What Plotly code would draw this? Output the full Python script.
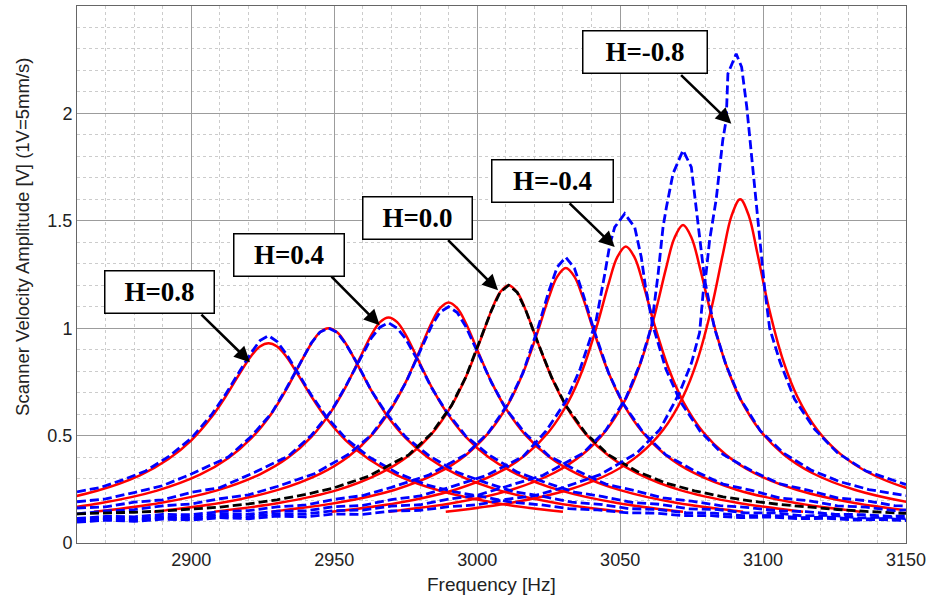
import plotly.graph_objects as go

# ---------------- data ----------------
H_LABELS = ["0.8", "0.6", "0.4", "0.2", "0.0", "-0.2", "-0.4", "-0.6", "-0.8"]

# model curves (red, solid): frequency [Hz] and amplitude [V]
model_f_h08 = [2824,2847,2867,2882,2892,2900,2907,2912,2917,2921,2924,2927,2930,2933,2937,2942,2947,2954,2962,2972,2987,3007,3030]
model_a_h08 = [0.145,0.185,0.243,0.315,0.391,0.478,0.585,0.682,0.791,0.872,0.915,0.93,0.915,0.872,0.791,0.682,0.585,0.478,0.391,0.315,0.243,0.185,0.145]
model_f_h06 = [2845,2868,2888,2903,2913,2921,2928,2933,2938,2942,2945,2948,2951,2954,2958,2963,2968,2975,2983,2993,3008,3028,3051]
model_a_h06 = [0.145,0.185,0.244,0.318,0.396,0.488,0.602,0.709,0.834,0.929,0.981,1.0,0.981,0.929,0.834,0.709,0.602,0.488,0.396,0.318,0.244,0.185,0.145]
model_f_h04 = [2866,2889,2909,2924,2934,2942,2949,2954,2959,2963,2966,2969,2972,2975,2979,2984,2989,2996,3004,3014,3029,3049,3072]
model_a_h04 = [0.145,0.186,0.245,0.320,0.399,0.494,0.614,0.727,0.862,0.969,1.028,1.05,1.028,0.969,0.862,0.727,0.614,0.494,0.399,0.320,0.245,0.186,0.145]
model_f_h02 = [2887,2910,2930,2945,2955,2963,2970,2975,2980,2984,2987,2990,2993,2996,3000,3005,3010,3017,3025,3035,3050,3070,3093]
model_a_h02 = [0.146,0.186,0.246,0.322,0.403,0.501,0.627,0.749,0.900,1.024,1.093,1.12,1.093,1.024,0.900,0.749,0.627,0.501,0.403,0.322,0.246,0.186,0.146]
model_f_h00 = [2908,2931,2951,2966,2976,2984,2991,2996,3001,3005,3008,3011,3014,3017,3021,3026,3031,3038,3046,3056,3071,3091,3114]
model_a_h00 = [0.146,0.187,0.246,0.324,0.406,0.507,0.640,0.772,0.940,1.083,1.167,1.2,1.167,1.083,0.940,0.772,0.640,0.507,0.406,0.324,0.246,0.187,0.146]
model_f_hm02 = [2928,2951,2971,2986,2996,3004,3011,3016,3021,3025,3028,3031,3034,3037,3041,3046,3051,3058,3066,3076,3091,3111,3134]
model_a_hm02 = [0.146,0.187,0.247,0.325,0.409,0.513,0.650,0.791,0.977,1.141,1.240,1.28,1.240,1.141,0.977,0.791,0.650,0.513,0.409,0.325,0.247,0.187,0.146]
model_f_hm04 = [2949,2972,2992,3007,3017,3025,3032,3037,3042,3046,3049,3052,3055,3058,3062,3067,3072,3079,3087,3097,3112,3132,3155]
model_a_hm04 = [0.145,0.186,0.247,0.325,0.411,0.517,0.660,0.811,1.017,1.209,1.331,1.38,1.331,1.209,1.017,0.811,0.660,0.517,0.411,0.325,0.247,0.186,0.145]
model_f_hm06 = [2969,2992,3012,3027,3037,3045,3052,3057,3062,3066,3069,3072,3075,3078,3082,3087,3092,3099,3107,3117,3132,3152,3175]
model_a_hm06 = [0.146,0.187,0.248,0.327,0.414,0.523,0.672,0.832,1.057,1.276,1.420,1.48,1.420,1.276,1.057,0.832,0.672,0.523,0.414,0.327,0.248,0.187,0.146]
model_f_hm08 = [2989,3012,3032,3047,3057,3065,3072,3077,3082,3086,3089,3092,3095,3098,3102,3107,3112,3119,3127,3137,3152,3172,3195]
model_a_hm08 = [0.145,0.187,0.248,0.327,0.415,0.526,0.681,0.850,1.096,1.349,1.524,1.6,1.524,1.349,1.096,0.850,0.681,0.526,0.415,0.327,0.248,0.187,0.145]

# measured curves (blue dashed; H=0.0 black dashed)
meas_f_h08 = [2860,2868,2876,2884,2892,2900,2907,2912,2917,2921,2924,2927,2930,2933,2937,2942,2947,2954,2962,2972,2982,2992,3002,3012,3022,3032,3042,3052,3062,3072,3082,3092,3102,3112,3122,3132,3142,3150]
meas_a_h08 = [0.238,0.258,0.294,0.335,0.402,0.488,0.596,0.693,0.802,0.887,0.942,0.965,0.938,0.884,0.798,0.688,0.592,0.487,0.402,0.326,0.272,0.238,0.216,0.19,0.178,0.16,0.154,0.141,0.139,0.128,0.127,0.118,0.121,0.113,0.115,0.107,0.109,0.104]
meas_f_h06 = [2860,2870,2880,2890,2900,2913,2921,2928,2933,2938,2942,2945,2948,2951,2954,2958,2963,2968,2975,2983,2993,3003,3013,3023,3033,3043,3053,3063,3073,3083,3093,3103,3113,3123,3133,3143,3150]
meas_a_h06 = [0.192,0.205,0.235,0.267,0.321,0.401,0.497,0.603,0.714,0.833,0.932,0.982,1.0,0.98,0.928,0.837,0.708,0.607,0.493,0.408,0.329,0.281,0.238,0.217,0.19,0.18,0.16,0.156,0.141,0.139,0.127,0.128,0.118,0.12,0.111,0.114,0.107]
meas_f_h04 = [2860,2870,2880,2890,2900,2910,2922,2934,2942,2949,2954,2959,2963,2966,2969,2972,2975,2979,2984,2989,2996,3004,3014,3024,3034,3044,3054,3064,3074,3084,3094,3104,3114,3124,3134,3144,3150]
meas_a_h04 = [0.163,0.168,0.19,0.201,0.236,0.258,0.328,0.405,0.502,0.615,0.73,0.858,0.955,1.005,1.025,1.0,0.95,0.855,0.724,0.616,0.498,0.411,0.33,0.281,0.237,0.216,0.189,0.18,0.159,0.156,0.14,0.14,0.126,0.129,0.117,0.12,0.113]
meas_f_h02 = [2860,2870,2880,2890,2900,2910,2920,2930,2943,2955,2963,2970,2975,2980,2984,2987,2990,2993,2996,3000,3005,3010,3017,3025,3035,3045,3055,3065,3075,3085,3095,3105,3115,3125,3135,3145,3150]
meas_a_h02 = [0.136,0.149,0.155,0.173,0.182,0.206,0.224,0.263,0.322,0.413,0.503,0.63,0.746,0.897,1.01,1.075,1.1,1.073,1.008,0.892,0.747,0.625,0.507,0.406,0.336,0.274,0.244,0.21,0.195,0.174,0.165,0.15,0.146,0.134,0.132,0.124,0.126]
meas_f_h00 = [2860,2870,2880,2890,2900,2910,2920,2930,2940,2950,2962,2976,2984,2991,2996,3001,3005,3008,3011,3014,3017,3021,3026,3031,3038,3046,3056,3066,3076,3086,3096,3106,3116,3126,3136,3146,3150]
meas_a_h00 = [0.136,0.138,0.143,0.149,0.157,0.167,0.182,0.201,0.226,0.257,0.311,0.41,0.51,0.64,0.772,0.94,1.083,1.167,1.2,1.167,1.083,0.94,0.772,0.64,0.51,0.41,0.333,0.279,0.243,0.215,0.195,0.179,0.166,0.156,0.147,0.14,0.138]
meas_f_hm02 = [2860,2870,2880,2890,2900,2910,2920,2930,2940,2950,2960,2970,2983,2996,3004,3011,3016,3021,3025,3028,3031,3034,3037,3041,3046,3051,3058,3066,3076,3086,3096,3106,3116,3126,3136,3146,3150]
meas_a_hm02 = [0.114,0.124,0.122,0.133,0.132,0.146,0.151,0.168,0.177,0.203,0.221,0.259,0.316,0.412,0.515,0.652,0.792,0.99,1.17,1.285,1.33,1.28,1.16,0.985,0.79,0.65,0.515,0.41,0.336,0.274,0.245,0.209,0.197,0.173,0.167,0.151,0.154]
meas_f_hm04 = [2860,2870,2880,2890,2900,2910,2920,2930,2940,2950,2960,2970,2980,2990,3003,3016,3024,3031,3036,3041.5,3044.6,3046.4,3048.1,3051.6,3055.1,3057.4,3058.9,3061.5,3066,3071,3078,3086,3096,3106,3116,3126,3136,3146,3150]
meas_a_hm04 = [0.106,0.116,0.112,0.123,0.122,0.134,0.134,0.148,0.15,0.169,0.175,0.202,0.219,0.258,0.313,0.402,0.52,0.66,0.81,1.03,1.25,1.39,1.47,1.533,1.47,1.33,1.19,1.01,0.81,0.66,0.52,0.412,0.336,0.275,0.245,0.21,0.197,0.174,0.172]
meas_f_hm06 = [2860,2870,2880,2890,2900,2910,2920,2930,2940,2950,2960,2970,2980,2990,3000,3010,3023,3037,3045,3052,3057,3061,3063.3,3065,3066.2,3068.5,3072,3074.9,3076.6,3078.4,3079.6,3083,3087,3092,3099,3107,3117,3127,3137,3150]
meas_a_hm06 = [0.101,0.111,0.106,0.117,0.113,0.125,0.123,0.136,0.135,0.151,0.153,0.172,0.178,0.204,0.222,0.262,0.315,0.418,0.525,0.675,0.835,1.01,1.254,1.47,1.564,1.72,1.828,1.75,1.564,1.378,1.223,1.0,0.83,0.672,0.523,0.42,0.338,0.285,0.249,0.22]
meas_f_hm08 = [2860,2870,2880,2890,2900,2910,2920,2930,2940,2950,2960,2970,2980,2990,3000,3010,3020,3030,3043,3056,3064,3070.8,3075,3077.8,3079,3080.1,3081.3,3083.6,3085.9,3087.1,3087.7,3090.6,3092.5,3094.3,3096,3097.8,3099.4,3100.6,3102.3,3106,3111,3118,3126,3136,3150]
meas_a_hm08 = [0.097,0.106,0.101,0.111,0.107,0.118,0.113,0.125,0.122,0.135,0.133,0.149,0.152,0.169,0.178,0.203,0.22,0.258,0.318,0.42,0.53,0.70,0.84,0.98,1.16,1.26,1.41,1.60,1.875,1.97,2.185,2.277,2.216,2.03,1.80,1.56,1.33,1.18,1.0,0.84,0.67,0.53,0.42,0.335,0.272]

MODEL_F = [model_f_h08, model_f_h06, model_f_h04, model_f_h02, model_f_h00, model_f_hm02, model_f_hm04, model_f_hm06, model_f_hm08]
MODEL_A = [model_a_h08, model_a_h06, model_a_h04, model_a_h02, model_a_h00, model_a_hm02, model_a_hm04, model_a_hm06, model_a_hm08]
MEAS_F = [meas_f_h08, meas_f_h06, meas_f_h04, meas_f_h02, meas_f_h00, meas_f_hm02, meas_f_hm04, meas_f_hm06, meas_f_hm08]
MEAS_A = [meas_a_h08, meas_a_h06, meas_a_h04, meas_a_h02, meas_a_h00, meas_a_hm02, meas_a_hm04, meas_a_hm06, meas_a_hm08]

for f, a in zip(MODEL_F + MEAS_F, MODEL_A + MEAS_A):
    assert len(f) == len(a), (len(f), len(a))

X_TICKS = [2900, 2950, 3000, 3050, 3100, 3150]
Y_TICKS = [0, 0.5, 1, 1.5, 2]

# callout labels: text, box centre (Hz, V), arrow tail (Hz, V), arrow tip (Hz, V), box width px
CALLOUTS = [
    ("H=0.8",  (2889.0, 1.170), (2903.0, 1.070), (2920.5, 0.842), 104),
    ("H=0.4",  (2934.0, 1.342), (2948.5, 1.247), (2965.9, 1.014), 105),
    ("H=0.0",  (2979.2, 1.514), (2989.3, 1.417), (3007.3, 1.177), 104),
    ("H=-0.4", (3026.4, 1.684), (3031.8, 1.588), (3048.1, 1.378), 116),
    ("H=-0.8", (3058.8, 2.286), (3070.8, 2.185), (3088.9, 1.952), 119),
]

# ---------------- figure ----------------
SANS = "Liberation Sans, Arial, sans-serif"
SERIF = "Liberation Serif, Times New Roman, serif"

fig = go.Figure()

for f, a in zip(MODEL_F, MODEL_A):
    fig.add_trace(go.Scatter(
        x=f, y=a, mode="lines", hoverinfo="skip", showlegend=False,
        line=dict(color="#ff0000", width=2.5, shape="spline"),
    ))

for lab, f, a in zip(H_LABELS, MEAS_F, MEAS_A):
    col = "#000000" if lab == "0.0" else "#0000ff"
    fig.add_trace(go.Scatter(
        x=f, y=a, mode="lines", hoverinfo="skip", showlegend=False,
        line=dict(color=col, width=2.8, dash="9px,4px"),
    ))

annotations = []
for text, (bx, by), (tx, ty), (px, py), w in CALLOUTS:
    annotations.append(dict(
        x=px, y=py, xref="x", yref="y", ax=tx, ay=ty, axref="x", ayref="y",
        text="", showarrow=True, arrowhead=2, arrowsize=1.2, arrowwidth=2.6,
        arrowcolor="#000000", standoff=0, startstandoff=0,
    ))
for text, (bx, by), (tx, ty), (px, py), w in CALLOUTS:
    annotations.append(dict(
        x=bx, y=by, xref="x", yref="y", text="<b>%s</b>" % text, showarrow=False,
        font=dict(family=SERIF, size=27, color="#000000"),
        bgcolor="#ffffff", bordercolor="#000000", borderwidth=1.5, borderpad=2,
        width=w, height=37, align="center", valign="middle",
        xanchor="center", yanchor="middle",
    ))

annotations.append(dict(
    x=-0.0651, y=0.570, xref="paper", yref="paper", showarrow=False,
    text="Scanner Velocity Amplitude [V] (1V=5mm/s)", textangle=-90,
    font=dict(family=SANS, size=18.5, color="#222222"),
    xanchor="center", yanchor="middle",
))
annotations.append(dict(
    x=0.4994, y=-0.0782, xref="paper", yref="paper", showarrow=False,
    text="Frequency [Hz]", font=dict(family=SANS, size=19, color="#222222"),
    xanchor="center", yanchor="middle",
))

fig.update_layout(
    width=935, height=600,
    margin=dict(l=77, r=29, t=6, b=57),
    paper_bgcolor="#ffffff", plot_bgcolor="#ffffff",
    annotations=annotations,
    showlegend=False,
)

fig.update_xaxes(
    range=[2860, 3150], tickvals=X_TICKS, ticks="",
    showgrid=True, gridcolor="#9c9c9c", gridwidth=1,
    minor=dict(dtick=10, tick0=2860, showgrid=True, gridcolor="#cccccc", griddash="dot", gridwidth=1),
    showline=True, linecolor="#666666", linewidth=1, mirror=True, zeroline=False,
    tickfont=dict(family=SANS, size=18, color="#222222"),
)
fig.update_yaxes(
    range=[0, 2.5], tickvals=Y_TICKS, ticks="",
    showgrid=True, gridcolor="#9c9c9c", gridwidth=1,
    minor=dict(dtick=0.1, tick0=0, showgrid=True, gridcolor="#cccccc", griddash="dot", gridwidth=1),
    showline=True, linecolor="#666666", linewidth=1, mirror=True, zeroline=False,
    tickfont=dict(family=SANS, size=18, color="#222222"),
)

fig.write_html("out.html")
